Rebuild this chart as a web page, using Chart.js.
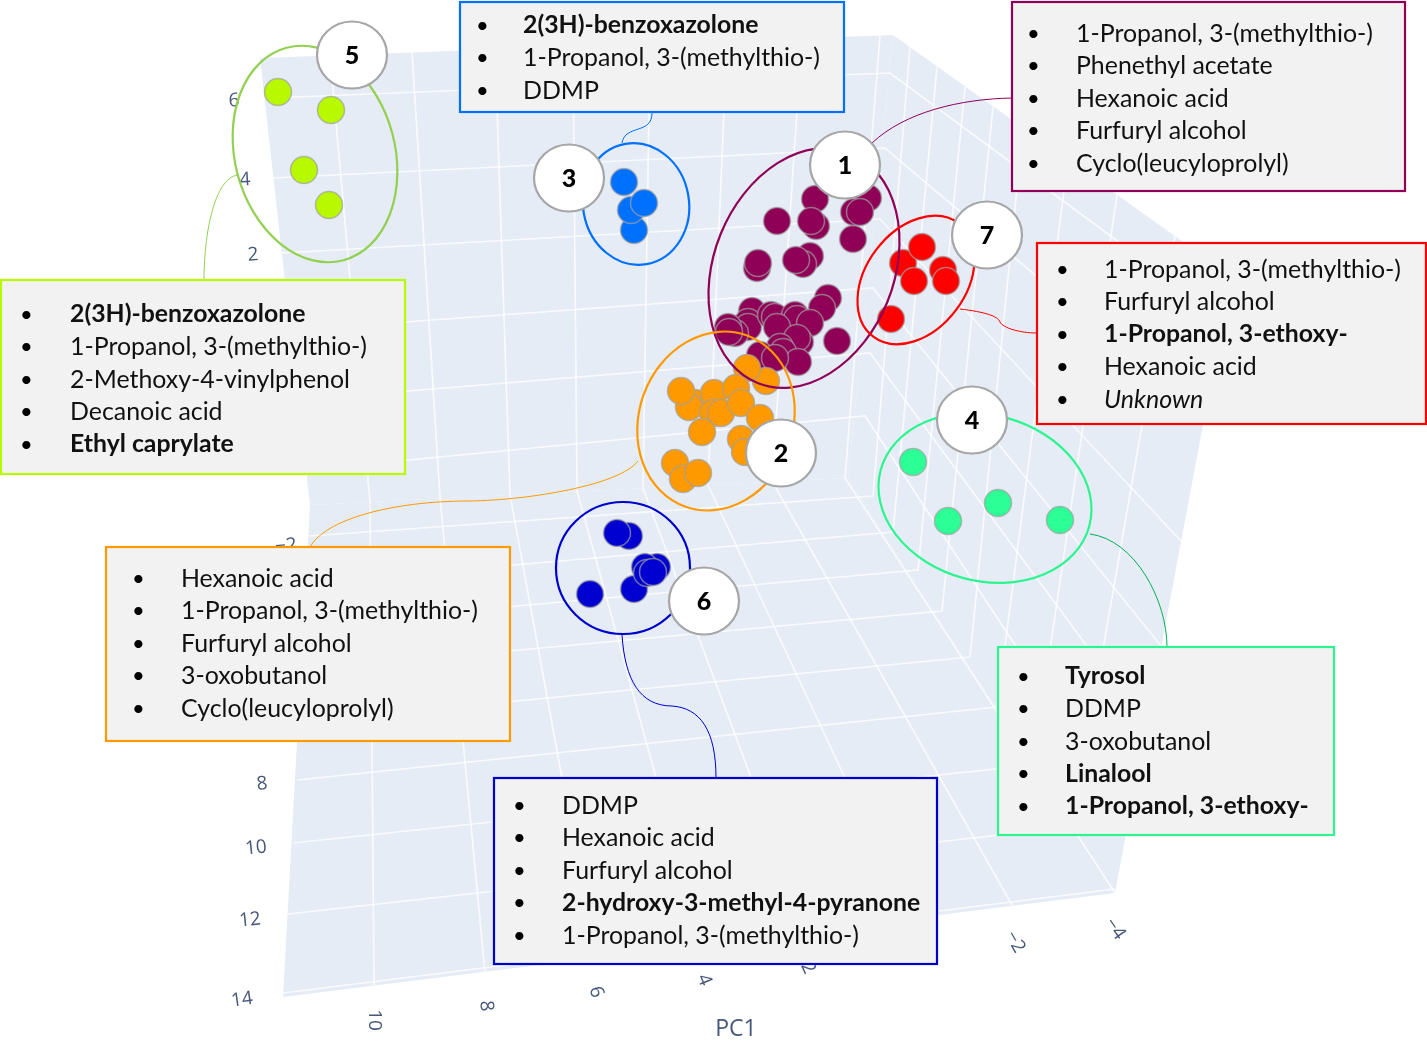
<!DOCTYPE html>
<html><head><meta charset="utf-8"><title>PCA clusters</title>
<style>html,body{margin:0;padding:0;background:#fff}canvas{display:block}</style>
<script src="https://cdn.jsdelivr.net/npm/chart.js@4"></script></head>
<body><canvas id="c" width="1427" height="1060"></canvas>
<script>
// ---- cluster scores ----
const cluster5X=[278,331,304,329], cluster5Y=[92,110,170,205];
const cluster3X=[624,634,631,644], cluster3Y=[182,230,210,203];
const cluster1X=[777,815,868,854,816,811,860,853,757,758,810,803,796,828,822,752,748,748,735,728,729,771,775,795,797,777,810,837,800,797,780,783,760,798,775];
const cluster1Y=[221,199,198,212,226,221,212,239,268,263,256,264,260,298,308,311,322,327,333,327,332,315,317,315,319,327,323,341,342,338,347,352,355,362,358];
const cluster2X=[766,747,695,689,681,714,713,721,736,741,760,702,741,745,675,683,698];
const cluster2Y=[381,368,403,407,391,393,413,413,388,403,418,432,439,452,463,479,473];
const cluster6X=[629,617,657,645,634,590,647,653], cluster6Y=[536,533,567,567,589,594,573,572];
const cluster4X=[913,948,998,1060], cluster4Y=[462,521,503,520];
const cluster7X=[903,922,943,914,946,891], cluster7Y=[263,247,270,281,281,319];

// ---- compound lists ----
const box1Items=["1-Propanol, 3-(methylthio-)","Phenethyl acetate","Hexanoic acid","Furfuryl alcohol","Cyclo(leucyloprolyl)"];
const box2Items=["Hexanoic acid","1-Propanol, 3-(methylthio-)","Furfuryl alcohol","3-oxobutanol","Cyclo(leucyloprolyl)"];
const box3Items=["2(3H)-benzoxazolone","1-Propanol, 3-(methylthio-)","DDMP"];
const box4Items=["Tyrosol","DDMP","3-oxobutanol","Linalool","1-Propanol, 3-ethoxy-"];
const box5Items=["2(3H)-benzoxazolone","1-Propanol, 3-(methylthio-)","2-Methoxy-4-vinylphenol","Decanoic acid","Ethyl caprylate"];
const box6Items=["DDMP","Hexanoic acid","Furfuryl alcohol","2-hydroxy-3-methyl-4-pyranone","1-Propanol, 3-(methylthio-)"];
const box7Items=["1-Propanol, 3-(methylthio-)","Furfuryl alcohol","1-Propanol, 3-ethoxy-","Hexanoic acid","Unknown"];

// ---- tick labels ----
const zTicks=["6","4","2"];
const yTicks=["−2","8","10","12","14"];
const xTicks=["10","8","6","4","2","−2","−4"];
const xTitle="PC1";

// ---- projected scene grid ----
const wallTopX=[330,412,495,573,650,727,802,880], wallTopY=[55,52,49,47,44,41,38,36];
const wallFootX=[370,440,510,577,643,708,772,845], wallFootY=[502,498,495,491,488,485,481,478];
const floorNearX=[374,485,595,702,808,910,1012,1115], floorNearY=[985,973,958,944,930,917,905,893];
const levelLeftX=[270,273,282,295,300,305], levelLeftY=[98,178,253,330,400,470];
const levelCornerX=[890,885,880,873,870,865], levelCornerY=[73,148,219,288,353,416];
const levelRightX=[1223,1204,1181,1161,1146,1129], levelRightY=[319,418,541,646,726,819];
const acrossLeftX=[309,307,305,303,300,297,293,288], acrossLeftY=[536,583,625,670,722,780,843,914];
const acrossRightX=[873,893,918,942,970,997,1033,1072], acrossRightY=[496,532,570,611,657,707,765,827];
const sideTopX=[910,937,965,993,1023,1068,1117,1175], sideTopY=[47,67,87,107,128,160,195,236];
const panelBackX=[260,893,848,310], panelBackY=[58,35,478,505];
const panelSideX=[893,1231,1115,848], panelSideY=[35,276,893,478];
const panelFloorX=[310,848,1115,283], panelFloorY=[505,478,893,997];

const pts=(xs,ys)=>xs.map((x,i)=>({x,y:ys[i]}));
const gridDatasets=[];
function gridLine(points){gridDatasets.push({type:'line',data:points,borderColor:'rgba(255,255,255,0.75)',borderWidth:1.7,pointRadius:0,tension:0,fill:false,order:10});}
wallTopX.forEach((_,i)=>gridLine([{x:wallTopX[i],y:wallTopY[i]},{x:wallFootX[i],y:wallFootY[i]},{x:floorNearX[i],y:floorNearY[i]}]));
levelLeftX.forEach((_,i)=>gridLine([{x:levelLeftX[i],y:levelLeftY[i]},{x:levelCornerX[i],y:levelCornerY[i]},{x:levelRightX[i],y:levelRightY[i]}]));
acrossLeftX.forEach((_,i)=>gridLine([{x:acrossLeftX[i],y:acrossLeftY[i]},{x:acrossRightX[i],y:acrossRightY[i]},{x:sideTopX[i],y:sideTopY[i]}]));
gridLine([{x:283,y:993},{x:1115,y:889}]);

function cluster(xs,ys,color,order){return {type:'scatter',data:pts(xs,ys),backgroundColor:color,borderColor:'rgba(160,160,160,0.7)',borderWidth:1.5,pointRadius:13.5,order};}
const clusterColors={c1:'#8f0057',c2:'#ff9900',c3:'#0070ff',c4:'#2cff96',c5:'#b9f900',c6:'#0000d0',c7:'#ff0000'};

// ---- overlay annotations (in picture coordinates) ----
const ellipses=[
 [804,268,124,90,-68,'#8f0057'],[716,421,91,77,-70,'#ff9900'],[636,204,61,53,80,'#0070ff'],
 [985,498,108,83,15,'#2cf58f'],[315,154,110,80,75,'#92d050'],[623,568,67,66,0,'#0000cc'],[916,280,71,50,-53,'#ff0000']];
const badges=[["5",352,55],["3",569,178],["1",845,165],["7",987,235],["4",972,420],["2",781,453],["6",704,601]];
const connectors=[
 ['#8f0057',[872,143],[905,112,960,99,1012,98]],
 ['#0070ff',[622,143],[625,124,652,135,652,113]],
 ['#92d050',[238,175],[214,178,204,235,204,280]],
 ['#ff0000',[960,309],[985,312,998,316,1000,322],[1003,328,1020,333,1037,333]],
 ['#ff9900',[638,461],[620,485,530,500,470,501],[390,501,325,520,310,547]],
 ['#0000cc',[622,635],[625,680,640,706,672,706],[700,708,716,730,716,778]],
 ['#00b050',[1090,534],[1135,540,1167,600,1167,647]]];
const boxes=[
 {items:box3Items,bold:[0],ital:[],x:460,y:2,w:384,h:110,color:'#0070ff',bx:481,tx:523,ty:25.5},
 {items:box1Items,bold:[],ital:[],x:1012,y:2,w:393,h:189,color:'#8f0057',bx:1032,tx:1076,ty:33.5},
 {items:box7Items,bold:[2],ital:[4],x:1037,y:243,w:389,h:181,color:'#ff0000',bx:1061,tx:1104,ty:269.5},
 {items:box5Items,bold:[0,4],ital:[],x:1,y:280,w:404,h:194,color:'#b9f900',bx:25,tx:70,ty:314.5},
 {items:box2Items,bold:[],ital:[],x:106,y:547,w:404,h:194,color:'#ff9900',bx:137,tx:181,ty:578.5},
 {items:box6Items,bold:[3],ital:[],x:494,y:778,w:443,h:186,color:'#0000cc',bx:518,tx:562,ty:805.5},
 {items:box4Items,bold:[0,3,4],ital:[],x:998,y:647,w:336,h:188,color:'#2cf58f',bx:1022,tx:1065,ty:676.5}];
const TICK='#46577a';
const zPos=[[234,101,-4],[245,180,-4],[253,255,-4]];
const yPos=[[286,546,-6],[262,784,-6],[256,848,-6],[250,920,-6],[242,1000,-8]];
const xPos=[[374,1020,90],[486,1006,85],[596,992,72],[704,980,68],[808,968,65],[1015,942,60],[1115,929,55]];

const scene={id:'scene',
 beforeDatasetsDraw(ch){
  const {ctx,scales:{x,y}}=ch;
  [[panelBackX,panelBackY],[panelSideX,panelSideY],[panelFloorX,panelFloorY]].forEach(([xs,ys])=>{
   ctx.beginPath();xs.forEach((v,i)=>ctx.lineTo(x.getPixelForValue(v),y.getPixelForValue(ys[i])));ctx.closePath();
   ctx.fillStyle='#e5ecf6';ctx.fill();});
  ctx.save();ctx.fillStyle=TICK;ctx.font='19px "Open Sans"';ctx.textAlign='center';ctx.textBaseline='middle';
  const put=(s,p)=>{ctx.save();ctx.translate(p[0],p[1]);ctx.rotate(p[2]*Math.PI/180);ctx.fillText(s,0,0);ctx.restore();};
  zTicks.forEach((s,i)=>put(s,zPos[i]));yTicks.forEach((s,i)=>put(s,yPos[i]));xTicks.forEach((s,i)=>put(s,xPos[i]));
  ctx.font='23px "Open Sans"';put(xTitle,[736,1029,0]);ctx.restore();
 },
 afterDatasetsDraw(ch){
  const {ctx}=ch;ctx.save();
  ellipses.forEach(e=>{ctx.beginPath();ctx.ellipse(e[0],e[1],e[2],e[3],e[4]*Math.PI/180,0,Math.PI*2);ctx.strokeStyle=e[5];ctx.lineWidth=2.2;ctx.stroke();});
  connectors.forEach(c=>{ctx.beginPath();ctx.moveTo(c[1][0],c[1][1]);for(let i=2;i<c.length;i++)ctx.bezierCurveTo(...c[i]);ctx.strokeStyle=c[0];ctx.lineWidth=1;ctx.stroke();});
  badges.forEach(b=>{ctx.beginPath();ctx.ellipse(b[1],b[2],35,33.5,0,0,Math.PI*2);ctx.fillStyle='#fff';ctx.fill();ctx.strokeStyle='#a6a6a6';ctx.lineWidth=2.2;ctx.stroke();
   ctx.fillStyle='#000';ctx.font='900 25px Lato';ctx.textAlign='center';ctx.textBaseline='middle';ctx.fillText(b[0],b[1],b[2]+1);});
  boxes.forEach(b=>{ctx.fillStyle='#f2f2f2';ctx.fillRect(b.x,b.y,b.w,b.h);ctx.strokeStyle=b.color;ctx.lineWidth=2.2;ctx.strokeRect(b.x,b.y,b.w,b.h);
   ctx.textAlign='left';ctx.textBaseline='middle';
   b.items.forEach((t,i)=>{const yy=b.ty+i*32.5;
    ctx.fillStyle='#000';ctx.font='22px Lato';ctx.fillText('•',b.bx-5,yy);
    ctx.font=(b.bold.includes(i)?'bold 24.8px ':(b.ital.includes(i)?'italic 25px ':'24.9px '))+'Lato';
    ctx.fillStyle='#111';ctx.fillText(t,b.tx,yy);});});
  ctx.restore();
 }};

new Chart(document.getElementById('c'),{
 data:{datasets:[...gridDatasets,
  cluster(cluster7X,cluster7Y,clusterColors.c7,7),
  cluster(cluster1X,cluster1Y,clusterColors.c1,6),
  cluster(cluster2X,cluster2Y,clusterColors.c2,5),
  cluster(cluster3X,cluster3Y,clusterColors.c3,4),
  cluster(cluster4X,cluster4Y,clusterColors.c4,3),
  cluster(cluster5X,cluster5Y,clusterColors.c5,2),
  cluster(cluster6X,cluster6Y,clusterColors.c6,1)]},
 options:{responsive:false,animation:false,layout:{padding:0,autoPadding:false},
  plugins:{legend:{display:false},tooltip:{enabled:false}},
  scales:{x:{type:'linear',display:false,min:0,max:1427,offset:false},y:{type:'linear',display:false,min:0,max:1060,reverse:true}}},
 plugins:[scene]});
</script></body></html>
